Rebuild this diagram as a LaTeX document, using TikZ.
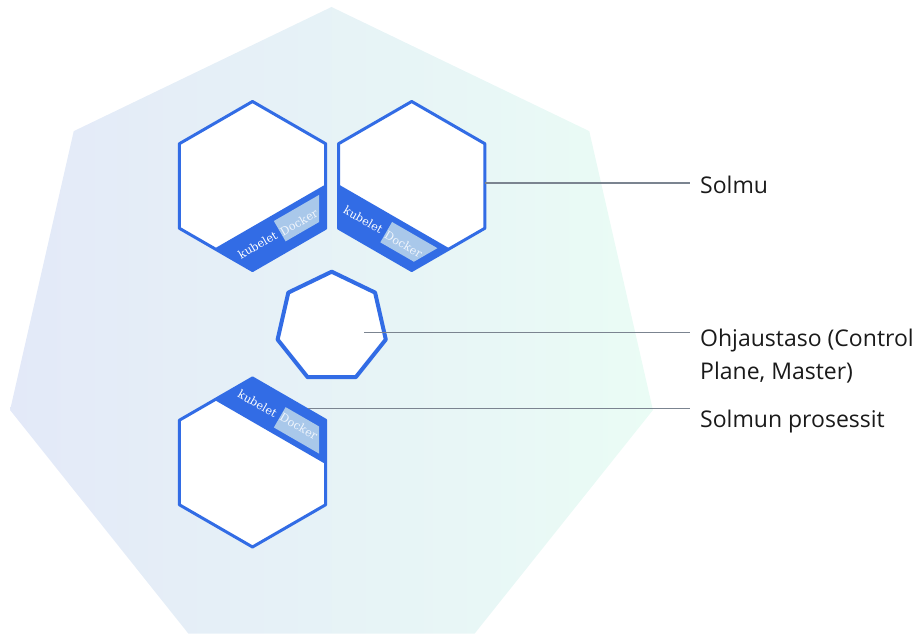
\documentclass[tikz,border=0pt]{standalone}
\usepackage{fontspec}
\setmainfont{Open Sans}
\newfontfamily\ribbonfont{DejaVu Serif}

\definecolor{kubeblue}{HTML}{326CE5}
\definecolor{dockerfill}{HTML}{A9C8EA}
\definecolor{dockertext}{HTML}{F0F5FC}
\definecolor{clusterleft}{HTML}{E3E9F8}
\definecolor{clusterright}{HTML}{EAFCF5}
\definecolor{leadergray}{HTML}{7B8490}
\definecolor{labeltext}{HTML}{1A1A1A}

% pointy-top hexagon of a worker node, centred on the origin
\newcommand\hexoutline{(90:84.5) -- (150:84.5) -- (210:84.5) -- (270:84.5) -- (330:84.5) -- (30:84.5) -- cycle}
% the same hexagon, shrunk, keeps the Docker tag off the border
\newcommand\hexinner{(90:77) -- (150:77) -- (210:77) -- (270:77) -- (330:77) -- (30:77) -- cycle}

\tikzset{
  hexline/.style={draw=kubeblue, line width=3pt, line join=round},
  ribbonfont/.style={font=\ribbonfont\fontsize{11.3}{12}\selectfont},
  dockerlabel/.style={ribbonfont, text=dockertext, inner sep=0pt},
  ribbontext/.style={ribbonfont, text=white, inner sep=0pt},
  lbl/.style={anchor=base west, inner sep=0pt, text=labeltext,
    font=\fontsize{23}{32.5}\selectfont},
  leader/.style={draw=leadergray, line width=1.3pt, shorten >=10pt},
  % worker node: #1 = direction of the ribbon edge, #2 = text angle, #3 = reading sense
  pics/workerhex/.style n args={3}{code={
    \begin{scope}[rotate=#1]
      \fill[white] \hexoutline;
      \begin{scope}
        \clip \hexoutline;
        \fill[kubeblue] (35.2,-95) rectangle (95,95);
      \end{scope}
      \begin{scope}
        \clip \hexinner;
        \fill[dockerfill] (41,{1*(#3)}) rectangle (64.5,{95*(#3)});
      \end{scope}
      \node[dockerlabel, rotate=#2] (-docker) at (54.5,{22*(#3)}) {Docker};
      \node[ribbontext, rotate=#2] (-kubelet) at (53.5,{-25*(#3)}) {kubelet};
      \draw[hexline] \hexoutline;
    \end{scope}
  }}
}

\begin{document}
\begin{tikzpicture}[x=1pt, y=1pt]
  \useasboundingbox (0,0) rectangle (916,634);

  % cluster: large heptagon with a horizontal gradient
  \begin{scope}[shift={(331.5,297.3)}]
    \shade[left color=clusterleft, right color=clusterright]
      (90:329.7) -- (141.43:329.7) -- (192.86:329.7) -- (244.29:329.7)
      -- (295.71:329.7) -- (347.14:329.7) -- (38.57:329.7) -- cycle;
  \end{scope}

  % worker nodes
  \pic (nodeA) at (252.5,448) {workerhex={-60}{30}{1}};
  \pic (nodeB) at (411.7,448) {workerhex={-120}{-30}{1}};
  \pic (nodeC) at (252.5,171.5) {workerhex={60}{-30}{-1}};

  % control plane
  \begin{scope}[shift={(331.7,306.8)}]
    \filldraw[fill=white, draw=kubeblue, line width=4pt, line join=round]
      (90:55.5) -- (141.43:55.5) -- (192.86:55.5) -- (244.29:55.5)
      -- (295.71:55.5) -- (347.14:55.5) -- (38.57:55.5) -- cycle;
  \end{scope}

  % labels (a two-line node sits on the baseline of its last line)
  \node[lbl] (solmu) at (700,440) {Solmu};
  \node[lbl, align=left] (ohjaus) at (700,254.5) {Ohjaustaso (Control\\Plane, Master)};
  \node[lbl] (prosessit) at (700,206.5) {Solmun prosessit};

  % leader lines
  \coordinate (solmu-from) at (485.3,451);
  \coordinate (ohjaus-from) at (364,301.3);
  \coordinate (prosessit-from) at (308,225.7);
  \draw[leader] (solmu-from) -- (solmu-from -| solmu.west);
  \draw[leader] (ohjaus-from) -- (ohjaus-from -| ohjaus.west);
  \draw[leader] (prosessit-from) -- (prosessit-from -| prosessit.west);
\end{tikzpicture}
\end{document}
